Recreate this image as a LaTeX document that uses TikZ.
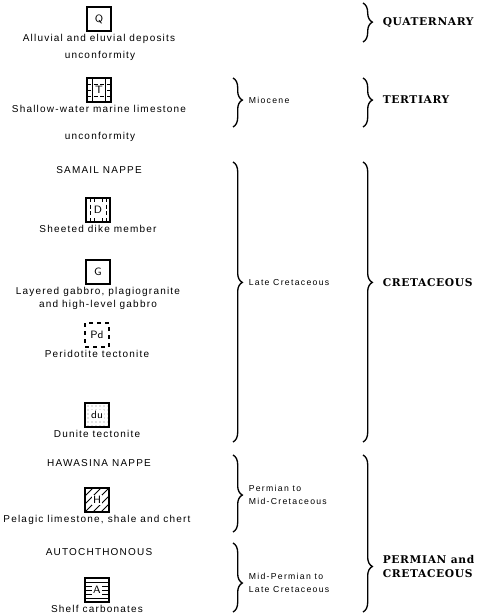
\documentclass[tikz,border=0pt]{standalone}
\usepackage{fontspec}
\newfontfamily\capfont[LetterSpace=12]{Liberation Sans}
\newfontfamily\agefont[LetterSpace=15]{Liberation Sans}
\newfontfamily\periodfont[LetterSpace=6]{DejaVu Serif}
\usetikzlibrary{positioning, decorations.pathreplacing, patterns}

\newcommand{\lith}[1]{\setlength{\fboxsep}{0.8pt}\colorbox{white}{#1}}

\tikzset{
  unit/.style={draw, line width=0.8pt, minimum width=18pt, minimum height=18pt, inner sep=0pt, font=\sffamily\fontsize{8}{9}\selectfont},
  limestone/.style={unit, path picture={
    \foreach \dx in {-5,5} \draw[line width=0.4pt] ([xshift=\dx pt]path picture bounding box.north) -- ([xshift=\dx pt]path picture bounding box.south);
    \foreach \dy in {-4.5,0,4.5} \draw[line width=0.4pt, densely dashed] ([yshift=\dy pt]path picture bounding box.west) -- ([yshift=\dy pt]path picture bounding box.east);}},
  dikes/.style={unit, path picture={
    \foreach \dx in {-6,-3,3,6} \draw[line width=0.4pt, densely dashed] ([xshift=\dx pt]path picture bounding box.north) -- ([xshift=\dx pt]path picture bounding box.south);}},
  gabbro/.style={unit},
  peridotite/.style={unit, dashed},
  dunite/.style={unit, pattern=dots, pattern color=gray},
  pelagic/.style={unit, path picture={
    \foreach \s in {-12,-6,0,6,12} \draw[line width=0.7pt] ([xshift=\s pt]path picture bounding box.south west) -- ++(18pt,18pt);}},
  shelf/.style={unit, path picture={
    \foreach \dy in {-6,-3,0,3,6} \draw[line width=0.4pt] ([yshift=\dy pt]path picture bounding box.west) -- ([yshift=\dy pt]path picture bounding box.east);}},
  caption/.style={font=\capfont\fontsize{7.5}{9.5}\selectfont, align=center, inner sep=1pt},
  brace/.style={decorate, decoration={brace, amplitude=7pt, aspect=#1}, line width=1pt},
  brace/.default=0.5,
  age/.style={font=\agefont\fontsize{6.5}{10}\selectfont, align=left, right=8pt},
  period/.style={font=\periodfont\bfseries\fontsize{8}{11}\selectfont, align=left, right=11pt}
}

\begin{document}
\begin{tikzpicture}[x=0.75pt, y=-0.75pt]
\useasboundingbox (0,0) rectangle (480,614);

% legend column
\node (Q) [unit] at (99,19) {\lith{Q}};
\node (Qtext) [caption, below=1pt of Q] {Alluvial and eluvial deposits};
\node (unc1) [caption] at (100,56) {unconformity};

\node (T) [limestone] at (99,90) {\lith{T}};
\node (Ttext) [caption, below=1pt of T] {Shallow-water marine limestone};
\node (unc2) [caption] at (100,137) {unconformity};

\node (samail) [caption] at (99,170) {SAMAIL NAPPE};
\node (D) [dikes] at (98,210) {\lith{D}};
\node (Dtext) [caption, below=1pt of D] {Sheeted dike member};
\node (G) [gabbro] at (98,272) {\lith{G}};
\node (Gtext) [caption, below=1pt of G] {Layered gabbro, plagiogranite\\and high-level gabbro};
\node (Pd) [peridotite] at (97,335) {\lith{Pd}};
\node (Pdtext) [caption, below=1pt of Pd] {Peridotite tectonite};
\node (du) [dunite] at (97,415) {\lith{du}};
\node (dutext) [caption, below=1pt of du] {Dunite tectonite};

\node (hawasina) [caption] at (99,463) {HAWASINA NAPPE};
\node (H) [pelagic] at (97,500) {\lith{H}};
\node (Htext) [caption, below=1pt of H] {Pelagic limestone, shale and chert};

\node (autoch) [caption] at (99,552) {AUTOCHTHONOUS};
\node (A) [shelf] at (97,590) {\lith{A}};
\node (Atext) [caption, below=1pt of A] {Shelf carbonates};

% brace ends
\coordinate (mio1) at (233,78);   \coordinate (mio2) at (233,127);
\coordinate (lc1) at (233,162);   \coordinate (lc2) at (233,442);
\coordinate (pm1) at (233,455);   \coordinate (pm2) at (233,532);
\coordinate (ml1) at (233,543);   \coordinate (ml2) at (233,612);
\coordinate (qua1) at (363,3);    \coordinate (qua2) at (363,42);
\coordinate (ter1) at (363,78);   \coordinate (ter2) at (363,127);
\coordinate (cre1) at (363,162);  \coordinate (cre2) at (363,442);
\coordinate (pc1) at (363,455);   \coordinate (pc2) at (363,612);

% ages
\draw [brace=0.45] (mio1) -- node (miocene) [pos=0.45, age] {Miocene} (mio2);
\draw [brace=0.43] (lc1) -- node (latecret) [pos=0.43, age] {Late Cretaceous} (lc2);
\draw [brace=0.52] (pm1) -- node (permmid) [pos=0.52, age] {Permian to\\Mid-Cretaceous} (pm2);
\draw [brace=0.58] (ml1) -- node (midlate) [pos=0.58, age] {Mid-Permian to\\Late Cretaceous} (ml2);

% periods
\draw [brace=0.49] (qua1) -- node (quaternary) [pos=0.49, period] {QUATERNARY} (qua2);
\draw [brace=0.45] (ter1) -- node (tertiary) [pos=0.45, period] {TERTIARY} (ter2);
\draw [brace=0.43] (cre1) -- node (cretaceous) [pos=0.43, period] {CRETACEOUS} (cre2);
\draw [brace=0.71] (pc1) -- node (permcret) [pos=0.71, period] {PERMIAN and\\CRETACEOUS} (pc2);
\end{tikzpicture}
\end{document}
